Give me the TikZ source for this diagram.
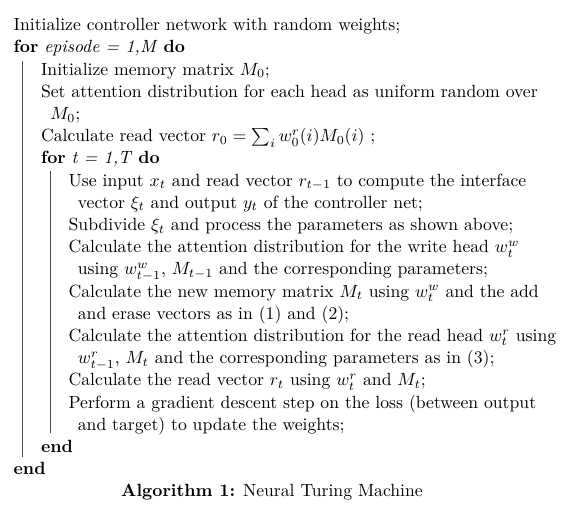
\documentclass[tikz,border=0pt]{standalone}
\usepackage{amsmath}
\usepackage{amssymb}

\begin{document}
\begin{tikzpicture}[x=0.566pt,y=0.566pt,
  algline/.style={anchor=base west,inner sep=0pt,font=\fontsize{10}{12}\selectfont},
  rule/.style={line width=0.4pt,black!70}]
  \useasboundingbox (0,0) rectangle (578,-521);

  \node[algline] (init) at (13.3,-30.7) {Initialize controller network with random weights;};
  \node[algline] (forep) at (13.3,-52.9) {\textbf{for} \textit{episode = 1,M} \textbf{do}};

  \node[algline] (mem) at (40.7,-75.1) {Initialize memory matrix $M_0$;};
  \node[algline] (att) at (40.7,-97.3) {Set attention distribution for each head as uniform random over};
  \node[algline] (attb) at (50,-119.5) {$M_0$;};
  \node[algline] (read) at (40.7,-141.7) {Calculate read vector $r_0 = \sum_i w_0^r(i)M_0(i)$ ;};
  \node[algline] (fort) at (40.7,-163.9) {\textbf{for} \textit{t = 1,T} \textbf{do}};

  \node[algline] (use) at (68.3,-186.1) {Use input $x_t$ and read vector $r_{t-1}$ to compute the interface};
  \node[algline] (useb) at (77.5,-208.3) {vector $\xi_t$ and output $y_t$ of the controller net;};
  \node[algline] (sub) at (68.3,-230.5) {Subdivide $\xi_t$ and process the parameters as shown above;};
  \node[algline] (write) at (68.3,-252.7) {Calculate the attention distribution for the write head $w_t^w$};
  \node[algline] (writeb) at (77.5,-274.9) {using $w_{t-1}^w$, $M_{t-1}$ and the corresponding parameters;};
  \node[algline] (new) at (68.3,-297.1) {Calculate the new memory matrix $M_t$ using $w_t^w$ and the add};
  \node[algline] (newb) at (77.5,-319.3) {and erase vectors as in (1) and (2);};
  \node[algline] (rhead) at (68.3,-341.5) {Calculate the attention distribution for the read head $w_t^r$ using};
  \node[algline] (rheadb) at (77.5,-363.7) {$w_{t-1}^r$, $M_t$ and the corresponding parameters as in (3);};
  \node[algline] (rvec) at (68.3,-385.9) {Calculate the read vector $r_t$ using $w_t^r$ and $M_t$;};
  \node[algline] (grad) at (68.3,-408.1) {Perform a gradient descent step on the loss (between output};
  \node[algline] (gradb) at (77.5,-430.3) {and target) to update the weights;};

  \node[algline] (endt) at (40.7,-452.5) {\textbf{end}};
  \node[algline] (endep) at (13.3,-474.7) {\textbf{end}};

  % block rules
  \draw[rule] (22.3,-61) -- (22.3,-457);
  \draw[rule] (50,-171) -- (50,-433);

  \node[anchor=base,inner sep=0pt,font=\fontsize{10}{12}\selectfont] (cap) at (272,-496)
    {\textbf{Algorithm 1:} Neural Turing Machine};
\end{tikzpicture}
\end{document}
